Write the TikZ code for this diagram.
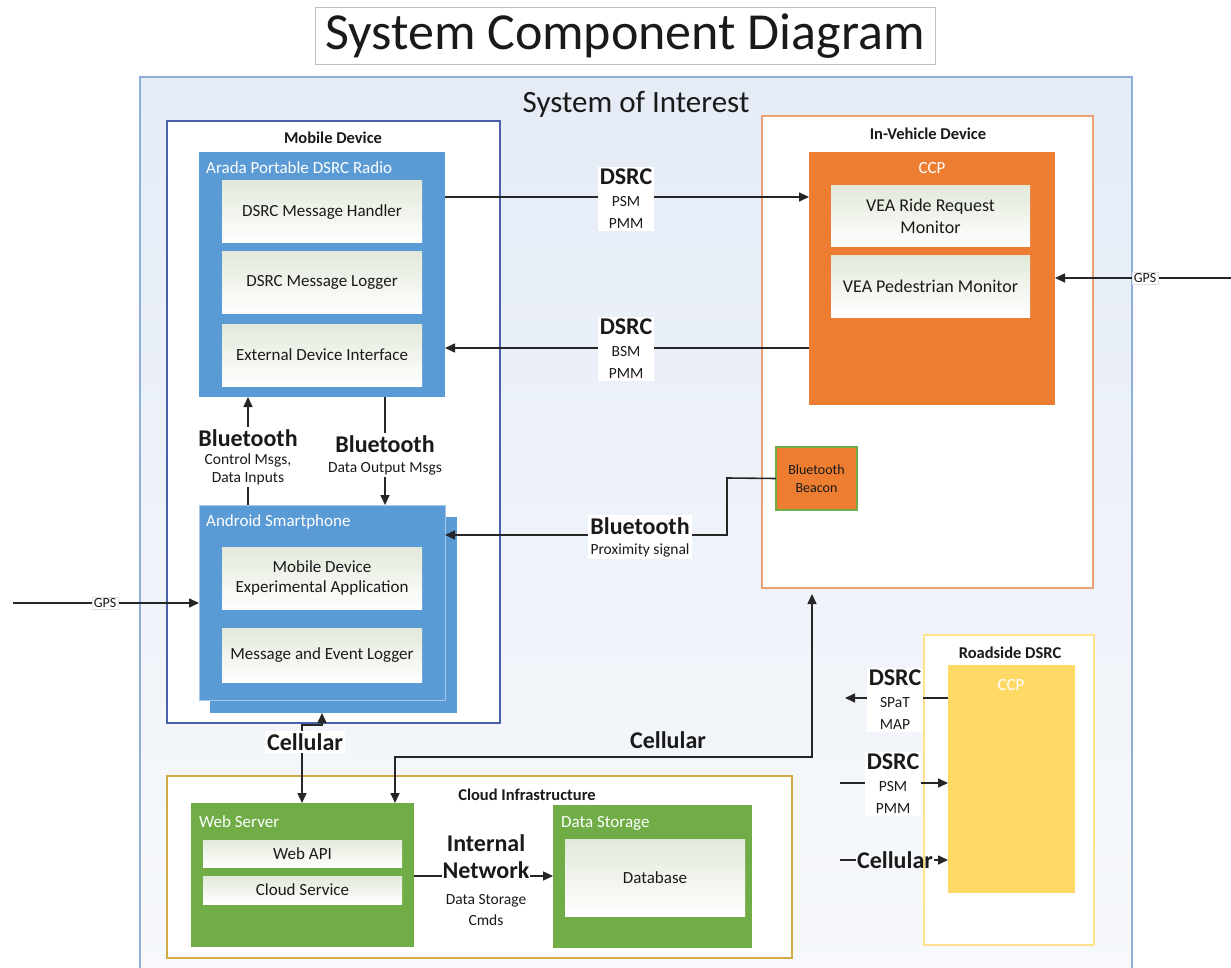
\documentclass[tikz,border=0pt]{standalone}
\usepackage{fontspec}
\setmainfont{Carlito}
\usetikzlibrary{arrows.meta}
\definecolor{sysfill}{HTML}{E5ECF6}
\definecolor{sysfillb}{HTML}{F7F9FC}
\definecolor{sysline}{HTML}{8FAEDA}
\definecolor{mdline}{HTML}{4A60A8}
\definecolor{blu}{HTML}{5B9BD5}
\definecolor{org}{HTML}{ED7D31}
\definecolor{orgline}{HTML}{E9A173}
\definecolor{yel}{HTML}{FFD966}
\definecolor{yelline}{HTML}{FFE38C}
\definecolor{grn}{HTML}{70AD47}
\definecolor{cldline}{HTML}{D2AB45}
\definecolor{innertop}{HTML}{E2E9DA}
\definecolor{txt}{HTML}{1A1A1A}
\definecolor{conncol}{HTML}{262626}
\newcommand\Lbig{\fontsize{24}{24}\selectfont\bfseries}
\tikzset{
 box/.style={rectangle, inner sep=0pt, outer sep=0pt, anchor=north west},
 container/.style={box, fill=white, line width=1.4pt},
 inbox/.style={box, top color=innertop, bottom color=white, draw=none, align=center, text=txt, font=\fontsize{17}{20}\selectfont},
 ctitle/.style={font=\fontsize{16.5}{18}\selectfont\bfseries, text=txt, inner sep=0pt},
 ctag/.style={font=\fontsize{17}{18}\selectfont, text=white, inner sep=0pt},
 conn/.style={draw=conncol, line width=1.6pt},
 tip/.style={-{Triangle[length=10pt,width=9pt]}},
 tips/.style={{Triangle[length=10pt,width=9pt]}-{Triangle[length=10pt,width=9pt]}},
 lbl/.style={fill=white, inner sep=2pt, align=center, text=txt, font=\fontsize{15.5}{22}\selectfont},
 gpslbl/.style={fill=white, draw=black!12, inner sep=1.5pt, font=\fontsize{14}{14}\selectfont, text=txt}
}
\begin{document}
\begin{tikzpicture}[x=1pt,y=-1pt]
\useasboundingbox (0,0) rectangle (1231,968);
\fill[white] (0,0) rectangle (1231,968);

% title
\node[box, draw=black!25, fill=white, line width=1pt, minimum width=620pt, minimum height=57pt] (titlebox) at (315,8) {};
\node[font=\fontsize{52}{54}\selectfont, text=txt] (title) at (titlebox.center) {System Component Diagram};

% system of interest
\node[box, top color=sysfill, bottom color=sysfillb, draw=sysline, line width=1.4pt, minimum width=992pt, minimum height=900pt] (sys) at (140,77) {};
\node[font=\fontsize{31}{32}\selectfont, text=txt] (systitle) at (636,104) {System of Interest};

% mobile device
\node[container, draw=mdline, minimum width=333pt, minimum height=602pt] (md) at (167,121) {};
\node[ctitle] (mdt) at (333,138) {Mobile Device};
\node[box, fill=blu, minimum width=246pt, minimum height=245pt] (arada) at (199,152) {};
\node[ctag, anchor=west] (aradat) at (206,168) {Arada Portable DSRC Radio};
\node[inbox, minimum width=200pt, minimum height=62pt] (handler) at (222,181) {DSRC Message Handler};
\node[inbox, minimum width=200pt, minimum height=61pt] (logger) at (222,252) {DSRC Message Logger};
\node[inbox, minimum width=200pt, minimum height=62pt] (edi) at (222,324) {External Device Interface};

\node[box, fill=blu, minimum width=247pt, minimum height=196pt] (androidback) at (210,517) {};
\node[box, fill=blu, draw=white!45!blu, line width=0.8pt, minimum width=246pt, minimum height=195pt] (android) at (199,505) {};
\node[ctag, anchor=west] (androidt) at (206,522) {Android Smartphone};
\node[inbox, minimum width=200pt, minimum height=62pt] (mdea) at (222,547) {Mobile Device\\Experimental Application};
\node[inbox, minimum width=200pt, minimum height=54pt] (mel) at (222,628) {Message and Event Logger};

% in-vehicle device
\node[container, draw=orgline, minimum width=331pt, minimum height=472pt] (iv) at (762,116) {};
\node[ctitle] (ivt) at (928,134) {In-Vehicle Device};
\node[box, fill=org, minimum width=246pt, minimum height=253pt] (ccp) at (809,152) {};
\node[ctag] (ccpt) at (932,168) {CCP};
\node[inbox, font=\fontsize{18}{22}\selectfont, minimum width=199pt, minimum height=61pt] (rrm) at (831,186) {VEA Ride Request\\Monitor};
\node[inbox, font=\fontsize{18}{22}\selectfont, minimum width=199pt, minimum height=61pt] (vpm) at (831,256) {VEA Pedestrian Monitor};
\node[box, fill=org, draw=grn, line width=1.2pt, minimum width=81pt, minimum height=63pt, align=center, font=\fontsize{14}{18}\selectfont, text=txt] (beacon) at (776,447) {Bluetooth\\Beacon};

% roadside
\node[container, draw=yelline, minimum width=170pt, minimum height=310pt] (rs) at (924,635) {};
\node[ctitle] (rst) at (1010,653) {Roadside DSRC};
\node[box, fill=yel, minimum width=127pt, minimum height=228pt] (ccp2) at (948,665) {};
\node[ctag] (ccp2t) at (1011,685) {CCP};

% cloud
\node[container, draw=cldline, minimum width=625pt, minimum height=182pt] (cloud) at (167,776) {};
\node[ctitle] (cloudt) at (527,795) {Cloud Infrastructure};
\node[box, fill=grn, minimum width=223pt, minimum height=144pt] (web) at (191,803) {};
\node[ctag, anchor=west] (webt) at (199,822) {Web Server};
\node[inbox, minimum width=199pt, minimum height=27pt] (api) at (203,840) {Web API};
\node[inbox, minimum width=199pt, minimum height=28pt] (cs) at (203,876) {Cloud Service};
\node[box, fill=grn, minimum width=199pt, minimum height=143pt] (ds) at (553,805) {};
\node[ctag, anchor=west] (dst) at (561,823) {Data Storage};
\node[inbox, minimum width=180pt, minimum height=77pt] (db) at (565,839) {Database};

% free ends
\coordinate (gpsL) at (13,603);
\coordinate (gpsR) at (1231,278);
\coordinate (rsA) at (845,698);
\coordinate (rsB) at (840,783);
\coordinate (rsC) at (840,860);

% label placed before its split connector
\node[lbl, font=\Lbig, fill=none, inner sep=1pt] (r3) at (895,860) {Cellular};

% connectors
\draw[conn, tip] (arada.east |- 0,197) -- (ccp.west |- 0,197);
\draw[conn, tip] (ccp.west |- 0,348) -- (arada.east |- 0,348);
\draw[conn, tip] (android.north -| 248,0) -- (arada.south -| 248,0);
\draw[conn, tip] (arada.south -| 385,0) -- (android.north -| 385,0);
\draw[conn, tip] (gpsL) -- (android.west |- 0,603);
\draw[conn, tip] (gpsR) -- (ccp.east |- 0,278);
\draw[conn, tip] (beacon.west) -- (727,478) -- (727,535) -- (android.east |- 0,535);
\draw[conn, tips] (web.north -| 302,0) -- (302,725) -- (322,725) -- (androidback.south -| 322,0);
\draw[conn, tips, shorten >=6pt] (web.north -| 395,0) -- (395,757) -- (812,757) -- (iv.south -| 812,0);
\draw[conn, tip] (ccp2.west |- rsA) -- (rsA);
\draw[conn, tip] (rsB) -- (ccp2.west |- rsB);
\draw[conn] (rsC) -- (r3.west);
\draw[conn, tip] (r3.east) -- (ccp2.west |- rsC);
\draw[conn, tip] (web.east |- 0,876) -- (ds.west |- 0,876);

% connector labels
\node[lbl] (l1) at (626,199) {{\Lbig DSRC}\\PSM\\PMM};
\node[lbl] (l2) at (626,349) {{\Lbig DSRC}\\BSM\\PMM};
\node[lbl] (l3) at (248,457) {{\Lbig Bluetooth}\\[-4pt]Control Msgs,\\[-4pt]Data Inputs};
\node[lbl] (l4) at (385,455) {{\Lbig Bluetooth}\\[-2pt]Data Output Msgs};
\node[lbl] (l5) at (640,537) {{\Lbig Bluetooth}\\[-2pt]Proximity signal};
\node[gpslbl] (g1) at (105,603) {GPS};
\node[gpslbl] (g2) at (1145,278) {GPS};
\node[lbl, font=\Lbig] (c1) at (305,742) {Cellular};
\node[lbl, font=\Lbig, fill=none] (c2) at (668,740) {Cellular};
\node[lbl] (r1) at (895,700) {{\Lbig DSRC}\\SPaT\\MAP};
\node[lbl] (r2) at (893,784) {{\Lbig DSRC}\\PSM\\PMM};
\node[lbl, inner sep=1pt] (n1) at (486,880) {{\Lbig Internal}\\[5pt]{\Lbig Network}\\[4pt]Data Storage\\[-1pt]Cmds};
\end{tikzpicture}
\end{document}
